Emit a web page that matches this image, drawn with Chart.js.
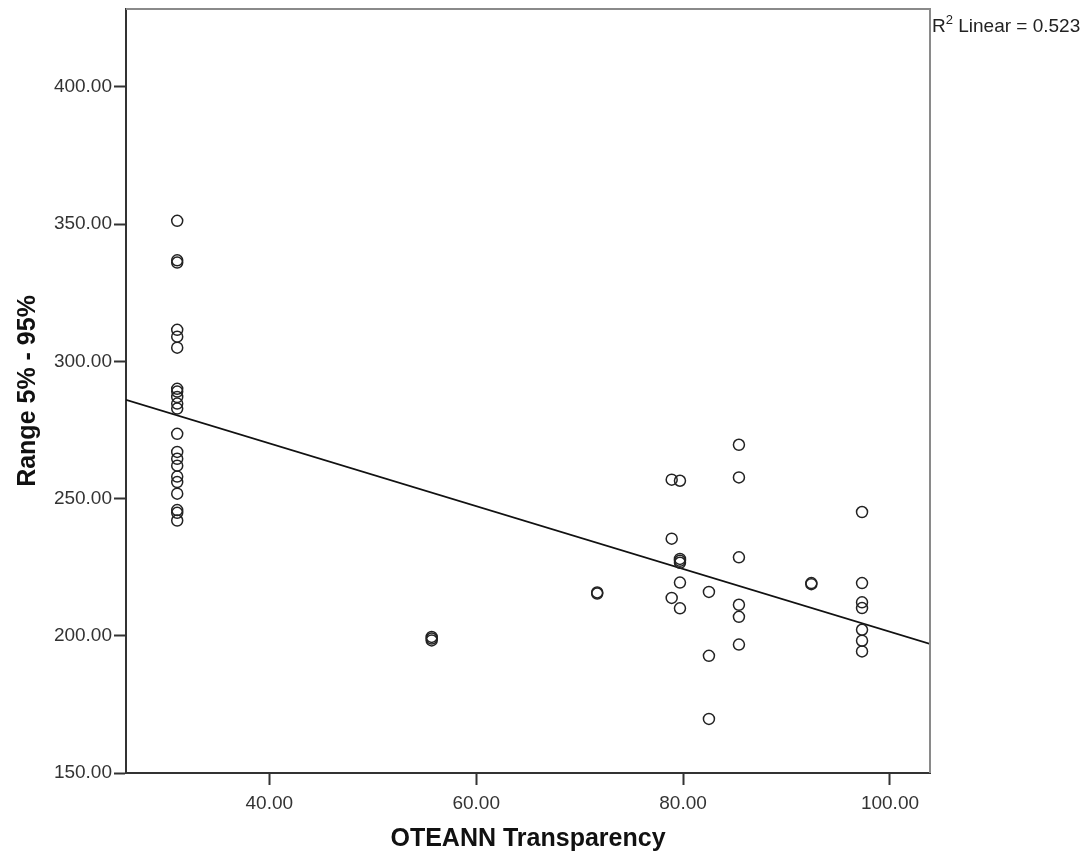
<!DOCTYPE html>
<html>
<head>
<meta charset="utf-8">
<title>Range vs OTEANN Transparency</title>
<script src="https://cdn.jsdelivr.net/npm/chart.js@4.4.1/dist/chart.umd.min.js"></script>
<style>
  html, body { margin: 0; padding: 0; background: #fff; }
  #wrap { width: 1092px; height: 854px; }
</style>
</head>
<body>
<div id="wrap"><canvas id="chart" width="1092" height="854"></canvas></div>
<script>
// OTEANN transparency score for each case
const transparency = [
  31.1, 31.1, 31.1, 31.1, 31.1, 31.1, 31.1, 31.1, 31.1, 31.1, 31.1,
  31.1, 31.1, 31.1, 31.1, 31.1, 31.1, 31.1, 31.1, 31.1, 31.1,
  55.7, 55.7, 55.7,
  71.7, 71.7,
  78.9, 78.9, 78.9,
  79.7, 79.7, 79.7, 79.7, 79.7, 79.7,
  82.5, 82.5, 82.5,
  85.4, 85.4, 85.4, 85.4, 85.4, 85.4,
  92.4, 92.4,
  97.3, 97.3, 97.3, 97.3, 97.3, 97.3, 97.3
];

// 5%-95% range for each case (same order)
const range = [
  351.2, 336.8, 336.0, 311.5, 309.0, 305.0, 290.0, 289.0, 287.0, 284.6, 282.8,
  273.6, 267.0, 264.5, 262.0, 258.0, 256.0, 251.8, 245.8, 244.8, 242.0,
  199.6, 199.0, 198.3,
  215.8, 215.4,
  256.9, 235.4, 213.8,
  256.5, 228.0, 227.3, 226.6, 219.4, 210.0,
  216.0, 192.7, 169.7,
  269.6, 257.7, 228.6, 211.3, 206.9, 196.8,
  219.2, 218.8,
  245.1, 219.2, 212.2, 210.1, 202.2, 198.2, 194.3
];

// fitted linear trend
const fitIntercept = 315.9;
const fitSlope = -1.144;
const rSquared = 0.523;

const xMin = 26.15, xMax = 103.87;
const yMin = 150, yMax = 428.4;

const points = transparency.map((x, i) => ({ x: x, y: range[i] }));
const fitLine = [xMin, xMax].map(x => ({ x: x, y: fitIntercept + fitSlope * x }));

const FONT = "'Liberation Sans', Arial, sans-serif";

// white background, grey frame on top/right and the R² note
const framePlugin = {
  id: 'frame',
  beforeDraw(chart) {
    const ctx = chart.ctx;
    ctx.save();
    ctx.fillStyle = '#fff';
    ctx.fillRect(0, 0, chart.width, chart.height);
    ctx.restore();
  },
  afterDraw(chart) {
    const { ctx, chartArea: a } = chart;
    ctx.save();
    ctx.strokeStyle = '#8a8a8a';
    ctx.lineWidth = 2;
    ctx.beginPath();
    ctx.moveTo(a.left, a.top);
    ctx.lineTo(a.right, a.top);
    ctx.lineTo(a.right, a.bottom);
    ctx.stroke();

    // R² Linear = ...
    ctx.fillStyle = '#222';
    ctx.textBaseline = 'alphabetic';
    ctx.textAlign = 'left';
    let x = a.right + 2;
    const base = a.top + 22.5;
    ctx.font = '19px ' + FONT;
    ctx.fillText('R', x, base);
    x += ctx.measureText('R').width;
    ctx.font = '13px ' + FONT;
    ctx.fillText('2', x, base - 8);
    x += ctx.measureText('2').width;
    ctx.font = '19px ' + FONT;
    ctx.fillText(' Linear = ' + rSquared.toFixed(3), x, base);
    ctx.restore();
  }
};

// fixed axis boxes so the plot area sits where it should
function fixX(scale) {
  scale.height = 81;
  scale.paddingLeft = 0;
  scale.paddingRight = 0;
}
function fixY(scale) {
  scale.width = 126;
  scale.paddingTop = 0;
  scale.paddingBottom = 0;
}

new Chart(document.getElementById('chart'), {
  type: 'scatter',
  data: {
    datasets: [
      {
        label: 'Range 5% - 95%',
        data: points,
        pointStyle: 'circle',
        pointRadius: 5.5,
        pointBorderWidth: 1.5,
        pointBorderColor: '#222',
        pointBackgroundColor: 'rgba(0,0,0,0)',
        showLine: false
      },
      {
        label: 'Linear fit',
        data: fitLine,
        showLine: true,
        borderColor: '#111',
        borderWidth: 1.7,
        pointRadius: 0,
        fill: false
      }
    ]
  },
  options: {
    responsive: false,
    animation: false,
    layout: { padding: { top: 9, right: 162, left: 0, bottom: 0 } },
    plugins: {
      legend: { display: false },
      tooltip: { enabled: false }
    },
    scales: {
      x: {
        type: 'linear',
        min: xMin,
        max: xMax,
        afterFit: fixX,
        grid: { drawOnChartArea: false, tickLength: 12, tickWidth: 2, tickColor: '#333' },
        border: { color: '#333', width: 2 },
        ticks: {
          stepSize: 20,
          includeBounds: false,
          padding: 7,
          color: '#333',
          font: { family: FONT, size: 19 },
          callback: v => v.toFixed(2)
        },
        title: {
          display: true,
          text: 'OTEANN Transparency',
          color: '#111',
          font: { family: FONT, size: 25, weight: 'bold' },
          padding: { top: 0, bottom: 0 }
        }
      },
      y: {
        type: 'linear',
        min: yMin,
        max: yMax,
        afterFit: fixY,
        grid: { drawOnChartArea: false, tickLength: 12, tickWidth: 2, tickColor: '#333' },
        border: { color: '#333', width: 2 },
        ticks: {
          stepSize: 50,
          includeBounds: false,
          padding: 2,
          color: '#333',
          font: { family: FONT, size: 19 },
          callback: v => v.toFixed(2)
        },
        title: {
          display: true,
          text: 'Range 5% - 95%',
          color: '#111',
          font: { family: FONT, size: 25, weight: 'bold' },
          padding: { top: 13, bottom: 0 }
        }
      }
    }
  },
  plugins: [framePlugin]
});
</script>
</body>
</html>
